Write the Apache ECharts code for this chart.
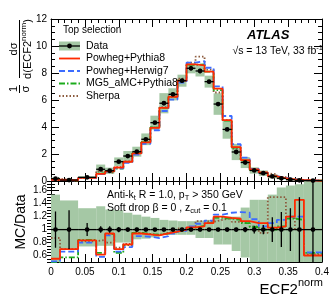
<!DOCTYPE html>
<html><head><meta charset="utf-8">
<script src="https://cdn.jsdelivr.net/npm/echarts@6/dist/echarts.min.js"></script>
<style>html,body{margin:0;padding:0;background:#fff}#c{width:333px;height:297px}</style>
</head><body><div id="c"></div>
<script>
// ---- data ----
const binEdges = [0, 0.0133, 0.04, 0.0667, 0.08, 0.0933, 0.1067, 0.12, 0.1333, 0.1467, 0.16, 0.1733, 0.1867, 0.2,
  0.2133, 0.2267, 0.24, 0.2533, 0.2667, 0.28, 0.2933, 0.3067, 0.32, 0.3333, 0.3467, 0.36, 0.3733, 0.4];
const dataValues = [0.17, 0.07, 0.27, 0.87, 0.76, 1.43, 1.85, 2.17, 3.09, 4.32, 5.76, 6.42, 7.43, 8.35, 8.15, 7.36,
  5.70, 3.82, 2.15, 1.37, 0.78, 0.58, 0.34, 0.20, 0.10, 0.05, 0.03];
const dataStatErr = [0.28, 0.30, 0.10, 0.05, 0.05, 0.04, 0.03, 0.03, 0.02, 0.02, 0.02, 0.02, 0.02, 0.02, 0.02, 0.02,
  0.02, 0.03, 0.03, 0.04, 0.06, 0.07, 0.19, 0.27, 0.33, 0.50, 1.00];
// relative size of the shaded boxes in the upper panel
const upperBandRel = [0.50, 0.40, 0.30, 0.40, 0.30, 0.22, 0.20, 0.17, 0.14, 0.12, 0.13, 0.07, 0.06, 0.045, 0.05, 0.06,
  0.14, 0.18, 0.28, 0.30, 0.30, 0.35, 0.40, 0.40, 0.40, 0.40, 0.40];
// ratio-panel band, upward and downward
const bandUp = [0.54, 0.45, 0.33, 0.36, 0.31, 0.30, 0.26, 0.23, 0.20, 0.18, 0.15, 0.14, 0.13, 0.13, 0.14, 0.15,
  0.17, 0.20, 0.20, 0.34, 0.46, 0.46, 0.54, 0.65, 0.68, 0.70, 0.90];
const bandDown = [0.60, 0.30, 0.26, 0.25, 0.25, 0.20, 0.20, 0.15, 0.14, 0.12, 0.08, 0.08, 0.08, 0.08, 0.13, 0.13,
  0.23, 0.23, 0.33, 0.43, 0.55, 0.60, 0.65, 0.70, 0.75, 0.80, 0.90];
const ratioPowhegPythia8 = [0.55, 0.70, 0.835, 0.615, 0.94, 0.70, 0.77, 0.94, 0.925, 0.91, 0.94, 0.97, 1.00, 1.035,
  1.05, 1.10, 1.20, 1.18, 1.17, 1.13, 1.10, 1.10, 1.03, 1.05, 1.20, 1.46, 0.60];
const ratioPowhegHerwig7 = [0.51, 0.66, 0.80, 0.58, 0.91, 0.66, 0.73, 0.90, 0.89, 0.87, 0.90, 0.94, 0.98, 1.05,
  1.09, 1.14, 1.23, 1.26, 1.27, 1.26, 1.16, 1.05, 1.10, 1.15, 1.20, 1.20, 0.65];
const ratioMG5Pythia8 = [0.49, 0.57, 0.84, 0.64, 0.93, 0.64, 0.76, 0.95, 0.93, 0.92, 0.94, 0.97, 1.00, 1.03,
  1.06, 1.10, 1.18, 1.17, 1.15, 1.10, 1.04, 1.00, 1.00, 1.05, 1.17, 1.15, 0.64];
const ratioSherpa = [0.87, 0.70, 0.82, 0.84, 0.80, 0.72, 0.78, 0.95, 0.93, 0.92, 0.95, 0.98, 1.02, 1.05, 1.13,
  1.12, 1.15, 1.18, 1.12, 1.10, 1.05, 0.95, 1.50, 1.50, 1.20, 1.00, 0.62];
const ratioTickValues = [0.6, 0.8, 1, 1.2, 1.4, 1.6];
const legendNames = ['Data', 'Powheg+Pythia8', 'Powheg+Herwig7', 'MG5_aMC+Pythia8', 'Sherpa'];

// ---- style ----
const FONT = '"Liberation Sans", Arial, Helvetica, sans-serif';
const BAND = '#a5c8a5';
const COL = {pp: '#ff2a00', ph: '#3c6cff', mg: '#1cab1c', sh: '#8b5a3c'};
const DASH = {pp: 'solid', ph: [6, 3], mg: [6, 2, 1.5, 2], sh: [1.5, 2]};

const chart = echarts.init(document.getElementById('c'), null, {renderer: 'canvas'});

function stepPoints(vals) {
  const pts = [];
  vals.forEach((v, i) => { pts.push([binEdges[i], v]); pts.push([binEdges[i + 1], v]); });
  return pts;
}
const mc = (r) => dataValues.map((d, i) => d * r[i]);

const bandUpper = dataValues.map((d, i) => [binEdges[i], binEdges[i + 1], d * (1 - upperBandRel[i]), d * (1 + upperBandRel[i])]);
const bandRatio = dataValues.map((d, i) => [binEdges[i], binEdges[i + 1], 1 - bandDown[i], 1 + bandUp[i]]);
const ptsUpper = dataValues.map((d, i) => [(binEdges[i] + binEdges[i + 1]) / 2, d, binEdges[i], binEdges[i + 1], d * (1 - dataStatErr[i]), d * (1 + dataStatErr[i])]);
const ptsRatio = dataValues.map((d, i) => [(binEdges[i] + binEdges[i + 1]) / 2, 1, binEdges[i], binEdges[i + 1], 1 - dataStatErr[i], 1 + dataStatErr[i]]);

function bandRender(params, api) {
  const p0 = api.coord([api.value(0), api.value(2)]);
  const p1 = api.coord([api.value(1), api.value(3)]);
  const rect = echarts.graphic.clipRectByRect(
    {x: p0[0], y: p1[1], width: p1[0] - p0[0], height: p0[1] - p1[1]},
    {x: params.coordSys.x, y: params.coordSys.y, width: params.coordSys.width, height: params.coordSys.height});
  if (!rect) return;
  return {type: 'rect', shape: rect, style: {fill: BAND}};
}
function pointRender(params, api) {
  const cs = params.coordSys;
  const c = api.coord([api.value(0), api.value(1)]);
  const l = api.coord([api.value(2), api.value(1)]);
  const r = api.coord([api.value(3), api.value(1)]);
  let lo = api.coord([api.value(0), api.value(4)])[1];
  let hi = api.coord([api.value(0), api.value(5)])[1];
  lo = Math.min(lo, cs.y + cs.height); hi = Math.max(hi, cs.y);
  return {type: 'group', children: [
    {type: 'line', shape: {x1: l[0], y1: c[1], x2: r[0], y2: c[1]}, style: {stroke: '#000', lineWidth: 1.3}},
    {type: 'line', shape: {x1: c[0], y1: lo, x2: c[0], y2: hi}, style: {stroke: '#000', lineWidth: 1.3}},
    {type: 'circle', shape: {cx: c[0], cy: c[1], r: 2.4}, style: {fill: '#000'}}
  ]};
}

function xAxis(grid, pos, showLabel) {
  return {type: 'value', gridIndex: grid, position: pos, min: 0, max: 0.4, interval: 0.05,
    axisLine: {show: true, onZero: false, lineStyle: {color: '#000', width: 1}},
    axisTick: {show: true, inside: true, length: 8, lineStyle: {color: '#000', width: 1}},
    minorTick: {show: true, splitNumber: 5, length: 4, lineStyle: {color: '#000', width: 1}},
    splitLine: {show: false}, minorSplitLine: {show: false},
    axisLabel: {show: showLabel, fontSize: 10, color: '#000', fontFamily: FONT, margin: 5}};
}
function yUpper(pos, showLabel) {
  return {type: 'value', gridIndex: 0, position: pos, min: 0, max: 12, interval: 2,
    axisLine: {show: true, onZero: false, lineStyle: {color: '#000', width: 1}},
    axisTick: {show: true, inside: true, length: 8, lineStyle: {color: '#000'}},
    minorTick: {show: true, splitNumber: 4, length: 4, lineStyle: {color: '#000'}},
    splitLine: {show: false},
    axisLabel: {show: showLabel, fontSize: 10, color: '#000', fontFamily: FONT, margin: 4}};
}
function yRatioMajor(pos, showLabel) {
  return {type: 'value', gridIndex: 1, position: pos, min: 0.5, max: 1.75,
    axisLine: {show: true, onZero: false, lineStyle: {color: '#000', width: 1}},
    axisTick: {show: true, inside: true, length: 8, customValues: ratioTickValues, lineStyle: {color: '#000'}},
    splitLine: {show: false},
    axisLabel: {show: showLabel, customValues: ratioTickValues, fontSize: 10, color: '#000', fontFamily: FONT, margin: 4}};
}
function yRatioMinor(pos) {
  return {type: 'value', gridIndex: 1, position: pos, min: 0.5, max: 1.75, interval: 0.05,
    axisLine: {show: false}, axisTick: {show: true, inside: true, length: 4, lineStyle: {color: '#000'}},
    splitLine: {show: false}, axisLabel: {show: false}};
}

function lineSeries(xi, yi, vals, key, name) {
  return {type: 'line', name: name, xAxisIndex: xi, yAxisIndex: yi, data: stepPoints(vals), showSymbol: false,
    symbol: 'none', clip: true, z: 3, animation: false,
    lineStyle: {color: COL[key], width: 1.8, type: DASH[key]}};
}

// ---- text helpers ----
const mctx = document.createElement('canvas').getContext('2d');
function fontStr(p) { return (p.italic ? 'italic ' : '') + (p.bold ? 'bold ' : '') + p.size + 'px ' + FONT; }
function tw(p) { mctx.font = fontStr(p); return mctx.measureText(p.t).width; }
function textRun(parts, x, y, align, extra) {
  const total = parts.reduce((s, p) => s + tw(p), 0);
  let cx = align === 'right' ? x - total : align === 'center' ? x - total / 2 : x;
  const els = [];
  parts.forEach(p => {
    els.push(Object.assign({type: 'text', x: cx, y: y + (p.dy || 0), z: 100,
      style: {text: p.t, font: fontStr(p), fill: '#000', textAlign: 'left', align: 'left',
        textVerticalAlign: 'middle', verticalAlign: 'middle'}}, extra || {}));
    cx += tw(p);
  });
  return els;
}

const graphics = [];
// legend
graphics.push(...textRun([{t: 'Top selection', size: 10}], 63, 30, 'left'));
const legY = [46, 58.5, 71, 83.5, 96];
graphics.push({type: 'rect', shape: {x: 59, y: 41.5, width: 21, height: 9}, style: {fill: BAND}, z: 100});
graphics.push({type: 'line', shape: {x1: 59, y1: 46, x2: 80, y2: 46}, style: {stroke: '#000', lineWidth: 1.3}, z: 101});
graphics.push({type: 'circle', shape: {cx: 69.5, cy: 46, r: 2.4}, style: {fill: '#000'}, z: 101});
['pp', 'ph', 'mg', 'sh'].forEach((k, i) => {
  graphics.push({type: 'line', shape: {x1: 59, y1: legY[i + 1], x2: 80, y2: legY[i + 1]},
    style: {stroke: COL[k], lineWidth: 1.8, lineDash: DASH[k] === 'solid' ? null : DASH[k]}, z: 100});
});
legendNames.forEach((n, i) => graphics.push(...textRun([{t: n, size: 10.5}], 86, legY[i], 'left')));
// ATLAS label
graphics.push(...textRun([{t: 'ATLAS', size: 13, bold: true, italic: true}], 247, 35, 'left'));
graphics.push({type: 'text', x: 323, y: 51, z: 120,
  style: {text: '\u221As = 13 TeV, 33 fb{s|-1}', font: '10.5px ' + FONT, fill: '#000', textAlign: 'right', align: 'right',
    textVerticalAlign: 'middle', verticalAlign: 'middle',
    rich: {s: {fontSize: 7.5, fontFamily: FONT, fill: '#000', verticalAlign: 'top', padding: [0, 0, 6, 0]}}}});
// ratio panel text
graphics.push(...textRun([{t: 'Anti-k', size: 10.5}, {t: 't', size: 7.5, dy: 3}, {t: ' R = 1.0, p', size: 10.5}, {t: 'T', size: 7.5, dy: 3}, {t: ' > 350 GeV', size: 10.5}], 107, 195, 'left'));
graphics.push(...textRun([{t: 'Soft drop \u03B2 = 0 , z', size: 10.5}, {t: 'cut', size: 7.5, dy: 3}, {t: ' = 0.1', size: 10.5}], 107, 208, 'left'));
// x axis title
graphics.push(...textRun([{t: 'ECF2', size: 15}, {t: 'norm', size: 11, dy: -7}], 323, 290, 'right'));
// y axis titles
graphics.push({type: 'text', x: 21, y: 222, rotation: Math.PI / 2, z: 100,
  style: {text: 'MC/Data', font: '14px ' + FONT, fill: '#000', textAlign: 'center', align: 'center', textVerticalAlign: 'middle', verticalAlign: 'middle'}});
(function () {
  const children = [];
  const mk = (t, x, y, size, va) => ({type: 'text', x: x, y: y,
    style: {text: t, font: size + 'px ' + FONT, fill: '#000', textAlign: 'center', align: 'center', textVerticalAlign: va, verticalAlign: va}});
  children.push(mk('1', 11, -0.5, 11, 'bottom'));
  children.push({type: 'line', shape: {x1: 7, y1: 0, x2: 15, y2: 0}, style: {stroke: '#000', lineWidth: 1}});
  children.push(mk('\u03C3', 11, 0.5, 11, 'top'));
  children.push(mk('d\u03C3', 51, -0.5, 11, 'bottom'));
  children.push({type: 'line', shape: {x1: 22, y1: 0, x2: 80, y2: 0}, style: {stroke: '#000', lineWidth: 1}});
  const den = [{t: 'd(ECF2', size: 11}, {t: 'norm', size: 8, dy: -4}, {t: ')', size: 11}];
  textRun(den, 51, 8, 'center').forEach(e => { delete e.z; children.push(e); });
  graphics.push({type: 'group', x: 19.5, y: 100, rotation: Math.PI / 2, z: 100, children: children});
})();

const option = {
  animation: false,
  backgroundColor: '#fff',
  grid: [
    {left: 51, top: 19, width: 271, height: 162, containLabel: false, outerBoundsMode: 'none'},
    {left: 51, top: 181, width: 271, height: 81, containLabel: false, outerBoundsMode: 'none'}
  ],
  xAxis: [xAxis(0, 'bottom', false), xAxis(0, 'top', false), xAxis(1, 'bottom', true), xAxis(1, 'top', false)],
  yAxis: [yUpper('left', true), yUpper('right', false), yRatioMajor('left', true), yRatioMajor('right', false),
    yRatioMinor('left'), yRatioMinor('right')],
  series: [
    {type: 'custom', xAxisIndex: 0, yAxisIndex: 0, data: bandUpper, renderItem: bandRender, z: 1, encode: {x: [0, 1], y: [2, 3]}},
    lineSeries(0, 0, mc(ratioSherpa), 'sh', 'Sherpa'),
    lineSeries(0, 0, mc(ratioMG5Pythia8), 'mg', 'MG5_aMC+Pythia8'),
    lineSeries(0, 0, mc(ratioPowhegHerwig7), 'ph', 'Powheg+Herwig7'),
    lineSeries(0, 0, mc(ratioPowhegPythia8), 'pp', 'Powheg+Pythia8'),
    {type: 'custom', xAxisIndex: 0, yAxisIndex: 0, data: ptsUpper, renderItem: pointRender, z: 5, encode: {x: [0, 2, 3], y: [1, 4, 5]}},
    {type: 'custom', xAxisIndex: 2, yAxisIndex: 2, data: bandRatio, renderItem: bandRender, z: 1, encode: {x: [0, 1], y: [2, 3]}},
    lineSeries(2, 2, ratioSherpa, 'sh', 'Sherpa r'),
    lineSeries(2, 2, ratioMG5Pythia8, 'mg', 'MG5 r'),
    lineSeries(2, 2, ratioPowhegHerwig7, 'ph', 'Herwig r'),
    lineSeries(2, 2, ratioPowhegPythia8, 'pp', 'Pythia r'),
    {type: 'custom', xAxisIndex: 2, yAxisIndex: 2, data: ptsRatio, renderItem: pointRender, z: 5, clip: true, encode: {x: [0, 2, 3], y: [1]}}
  ],
  graphic: {elements: graphics}
};
chart.setOption(option);
</script></body></html>
